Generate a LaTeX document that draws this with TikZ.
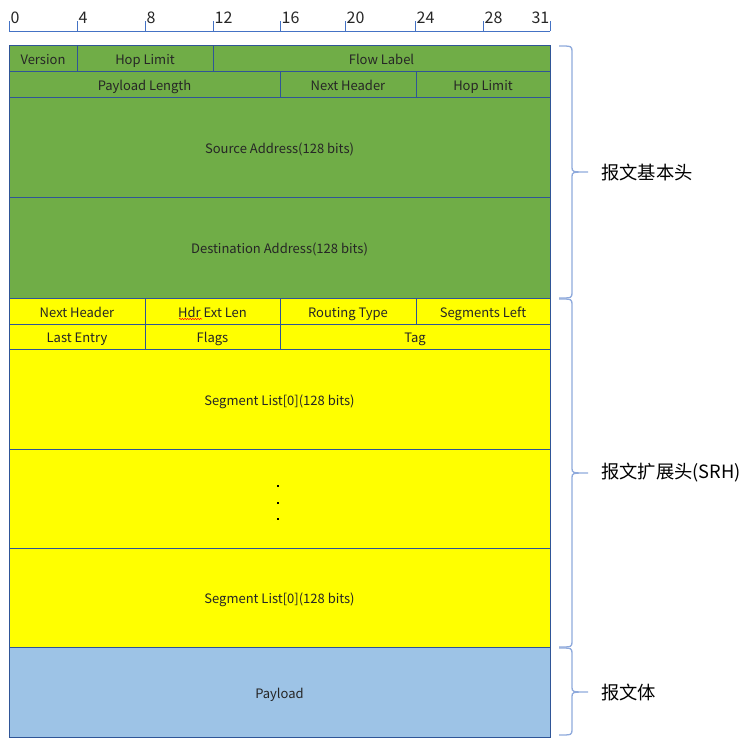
\documentclass[tikz,border=0pt]{standalone}
\usepackage{fontspec}
\setmainfont{Noto Sans CJK SC}
\usetikzlibrary{decorations.pathmorphing}
\definecolor{gr}{HTML}{70AD47}
\definecolor{yl}{HTML}{FFFF00}
\definecolor{bl}{HTML}{9DC3E6}
\definecolor{bd}{HTML}{2F5597}
\definecolor{rl}{HTML}{4472C4}
\definecolor{br}{HTML}{8FAADC}
\begin{document}
\begin{tikzpicture}[x=1pt,y=-1pt,
  cell/.style={draw=bd, line width=0.8pt, inner sep=0pt, outer sep=0pt, anchor=north west,
    font=\fontsize{13}{15}\selectfont, text=black!85, text height=12pt, text depth=0pt},
  gcell/.style={cell, fill=gr},
  ycell/.style={cell, fill=yl},
  bcell/.style={cell, fill=bl},
  rulerlab/.style={inner sep=0pt, font=\fontsize{16}{18}\selectfont, text=black!85},
  bracecurve/.style={draw=br, line width=1.3pt},
  bracelab/.style={anchor=west, inner sep=0pt, font=\fontsize{18.3}{21}\selectfont, text=black}]
\useasboundingbox (0,0) rectangle (753,750);
% ruler
\draw[rl, line width=0.9pt] (9,31) -- (550,31);
\foreach \x/\l in {9/0,77/4,145/8,213/12,280/16,345/20,415/24,483/28}{
  \draw[rl, line width=0.9pt] (\x,31) -- (\x,21);
  \node[rulerlab, anchor=base west] (r\l) at (\x+1.5,23.5) {\l};
}
\draw[rl, line width=0.9pt] (550,31) -- (550,21);
\node[rulerlab, anchor=base east] (r31) at (549.5,23.5) {31};
% basic header
\node[gcell, minimum width=68pt, minimum height=26pt] (ver) at (9,45) {Version};
\node[gcell, minimum width=136pt, minimum height=26pt] (hop1) at (77,45) {Hop Limit};
\node[gcell, minimum width=337pt, minimum height=26pt] (flow) at (213,45) {Flow Label};
\node[gcell, minimum width=271pt, minimum height=26pt] (plen) at (9,71) {Payload Length};
\node[gcell, minimum width=136pt, minimum height=26pt] (nh1) at (280,71) {Next Header};
\node[gcell, minimum width=134pt, minimum height=26pt] (hop2) at (416,71) {Hop Limit};
\node[gcell, minimum width=541pt, minimum height=100pt] (src) at (9,97) {Source Address(128 bits)};
\node[gcell, minimum width=541pt, minimum height=101pt] (dst) at (9,197) {Destination Address(128 bits)};
% SRH
\node[ycell, minimum width=136pt, minimum height=26pt] (nh2) at (9,298) {Next Header};
\node[ycell, minimum width=135pt, minimum height=26pt] (hel) at (145,298) {Hdr Ext Len};
\node[ycell, minimum width=136pt, minimum height=26pt] (rt) at (280,298) {Routing Type};
\node[ycell, minimum width=134pt, minimum height=26pt] (sl) at (416,298) {Segments Left};
\node[ycell, minimum width=136pt, minimum height=25pt] (le) at (9,324) {Last Entry};
\node[ycell, minimum width=135pt, minimum height=25pt] (flags) at (145,324) {Flags};
\node[ycell, minimum width=270pt, minimum height=25pt] (tag) at (280,324) {Tag};
\node[ycell, minimum width=541pt, minimum height=100pt] (seg0) at (9,349) {Segment List[0](128 bits)};
\node[ycell, minimum width=541pt, minimum height=99pt] (segd) at (9,449) {};
\node[ycell, minimum width=541pt, minimum height=99pt] (segn) at (9,548) {Segment List[0](128 bits)};
\foreach \y in {486,503,519}{\fill[black] (277,\y-1) rectangle (279,\y+1);}
\draw[red, line width=0.5pt, decorate, decoration={snake, amplitude=0.7pt, segment length=2.6pt}] (179,319) -- (202,319);
% payload
\node[bcell, minimum width=541pt, minimum height=90pt] (pay) at (9,647) {Payload};
% braces
\draw[bracecurve] (559,46) .. controls (572,46) .. (572,52) -- (572,167) .. controls (572,172) .. (588,172)
  .. controls (572,172) .. (572,177) -- (572,292) .. controls (572,298) .. (559,298);
\draw[bracecurve] (559,299) .. controls (572,299) .. (572,305) -- (572,468) .. controls (572,473) .. (588,473)
  .. controls (572,473) .. (572,478) -- (572,641) .. controls (572,647) .. (559,647);
\draw[bracecurve] (559,648) .. controls (572,648) .. (572,654) -- (572,687) .. controls (572,692) .. (588,692)
  .. controls (572,692) .. (572,697) -- (572,729) .. controls (572,735) .. (559,735);
\node[bracelab] (l1) at (601,172) {报文基本头};
\node[bracelab] (l2) at (601,473) {报文扩展头(SRH)};
\node[bracelab] (l3) at (601,692) {报文体};
\end{tikzpicture}
\end{document}
